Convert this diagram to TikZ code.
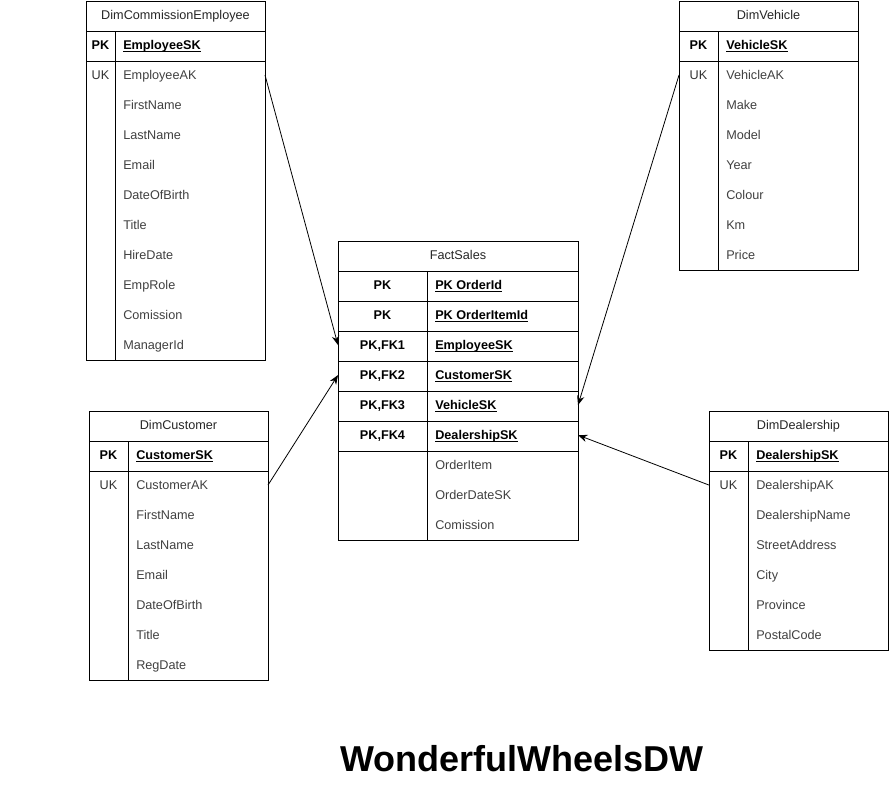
\documentclass[tikz,border=0pt]{standalone}
\usepackage{fontspec}
\setmainfont{Liberation Sans}
\usetikzlibrary{arrows.meta}

% underline close to the baseline, like the source tool does
\newcommand\keyline[1]{\underline{\smash{#1}}}

\tikzset{
  every node/.style = {font=\fontsize{9.5}{11}\selectfont, inner sep=0pt,
                       text height=6.8pt, text depth=0pt, yshift=0.7pt},
  frame/.style = {draw, line width=0.75pt},
  hdr/.style = {anchor=center, text=black!85},
  keyc/.style = {anchor=center, text=black!80},
  keyb/.style = {anchor=center, font=\fontsize{9.5}{11}\selectfont\bfseries},
  fld/.style = {anchor=west, text=black!75},
  pkfld/.style = {anchor=west, font=\fontsize{9.5}{11}\selectfont\bfseries},
  link/.style = {-{Stealth[length=7pt,width=5.5pt]}, line width=0.6pt},
}

\begin{document}
\begin{tikzpicture}[x=0.75pt, y=-0.75pt]
\useasboundingbox (0,0) rectangle (889,811);

% DimCommissionEmployee
\draw[frame] (86,1) rectangle (265,360);
\draw[frame] (86,31) -- (265,31) (86,61) -- (265,61) (115,31) -- (115,360);
\coordinate (empE) at (265,1);
\node[hdr] (emp) at (175.5,16) {DimCommissionEmployee};
\node[keyb] (empPK) at (100.5,46) {PK};
\node[pkfld] (empSK) at (123,46) {\keyline{EmployeeSK}};
\node[keyc] (empUK) at (100.5,76) {UK};
\foreach \f [count=\i] in {EmployeeAK,FirstName,LastName,Email,DateOfBirth,
                           Title,HireDate,EmpRole,Comission,ManagerId}
  \node[fld] (emp-\i) at (123,46+30*\i) {\f};

% DimVehicle
\draw[frame] (679,1) rectangle (858,270);
\draw[frame] (679,31) -- (858,31) (679,61) -- (858,61) (718,31) -- (718,270);
\coordinate (vehW) at (679,1);
\node[hdr] (veh) at (768.5,16) {DimVehicle};
\node[keyb] (vehPK) at (698.5,46) {PK};
\node[pkfld] (vehSK) at (726,46) {\keyline{VehicleSK}};
\node[keyc] (vehUK) at (698.5,76) {UK};
\foreach \f [count=\i] in {VehicleAK,Make,Model,Year,Colour,Km,Price}
  \node[fld] (veh-\i) at (726,46+30*\i) {\f};

% FactSales
\draw[frame] (338,241) rectangle (578,540);
\foreach \y in {271,301,...,451}
  \draw[frame] (338,\y) -- (578,\y);
\draw[frame] (427,271) -- (427,540);
\coordinate (factW) at (338,241);
\coordinate (factE) at (578,241);
\node[hdr] (fact) at (458,256) {FactSales};
\foreach \k/\f [count=\i] in {PK/PK OrderId, PK/PK OrderItemId, {PK,FK1}/EmployeeSK,
                              {PK,FK2}/CustomerSK, {PK,FK3}/VehicleSK, {PK,FK4}/DealershipSK}
{
  \node[keyb] (fk-\i) at (382.5,256+30*\i) {\k};
  \node[pkfld] (fs-\i) at (435,256+30*\i) {\keyline{\f}};
}
\foreach \f [count=\i] in {OrderItem,OrderDateSK,Comission}
  \node[fld] (ff-\i) at (435,436+30*\i) {\f};

% DimCustomer
\draw[frame] (89,411) rectangle (268,680);
\draw[frame] (89,441) -- (268,441) (89,471) -- (268,471) (128,441) -- (128,680);
\coordinate (cusE) at (268,411);
\node[hdr] (cus) at (178.5,426) {DimCustomer};
\node[keyb] (cusPK) at (108.5,456) {PK};
\node[pkfld] (cusSK) at (136,456) {\keyline{CustomerSK}};
\node[keyc] (cusUK) at (108.5,486) {UK};
\foreach \f [count=\i] in {CustomerAK,FirstName,LastName,Email,DateOfBirth,Title,RegDate}
  \node[fld] (cus-\i) at (136,456+30*\i) {\f};

% DimDealership
\draw[frame] (709,411) rectangle (888,650);
\draw[frame] (709,441) -- (888,441) (709,471) -- (888,471) (748,441) -- (748,650);
\coordinate (deaW) at (709,411);
\node[hdr] (dea) at (798.5,426) {DimDealership};
\node[keyb] (deaPK) at (728.5,456) {PK};
\node[pkfld] (deaSK) at (756,456) {\keyline{DealershipSK}};
\node[keyc] (deaUK) at (728.5,486) {UK};
\foreach \f [count=\i] in {DealershipAK,DealershipName,StreetAddress,City,Province,PostalCode}
  \node[fld] (dea-\i) at (756,456+30*\i) {\f};

% relations
\draw[link] (emp-1 -| empE) -- (fk-3 -| factW);
\draw[link] (cus-1 -| cusE) -- (fk-4 -| factW);
\draw[link] (veh-1 -| vehW) -- (fk-5 -| factE);
\draw[link] (dea-1 -| deaW) -- (fk-6 -| factE);

\node[font=\fontsize{27}{32}\selectfont\bfseries, text height=19.3pt] (title)
  at (522,760) {WonderfulWheelsDW};
\end{tikzpicture}
\end{document}
